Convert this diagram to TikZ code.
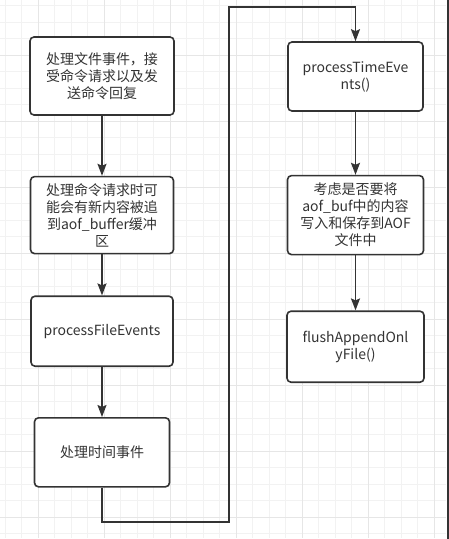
\documentclass[tikz,border=0pt]{standalone}
\usepackage{fontspec}
\setmainfont{Noto Sans CJK SC}
\usetikzlibrary{arrows.meta,positioning}
\definecolor{ink}{HTML}{333333}
\definecolor{gridminor}{HTML}{F2F2F2}
\definecolor{gridmajor}{HTML}{E6E6E6}

\begin{document}
\begin{tikzpicture}[x=1pt, y=-1pt,
  font=\fontsize{14}{17}\selectfont,
  stepbox/.style={draw=ink, line width=1.6pt, rounded corners=4pt, fill=white, text=ink, align=center, inner sep=0pt},
  arr/.style={-{Stealth[length=12pt, width=9pt, inset=2pt]}, draw=ink, line width=1.6pt}]
  \useasboundingbox (0,0) rectangle (449,539);
  \fill[white] (0,0) rectangle (449,539);
  % grid
  \foreach \i in {0,...,26} \draw[gridminor, line width=0.8pt] (5+16.5*\i,0) -- (5+16.5*\i,538);
  \foreach \j in {0,...,32} \draw[gridminor, line width=0.8pt] (0,5.5+16.5*\j) -- (446,5.5+16.5*\j);
  \foreach \x in {38,104,...,434} \draw[gridmajor, line width=0.8pt] (\x,0) -- (\x,538);
  \foreach \y in {55,121,...,517} \draw[gridmajor, line width=0.8pt] (0,\y) -- (446,\y);
  \fill[ink] (446.5,0) rectangle (448.5,539);

  % left column
  \node[stepbox, minimum width=144pt, minimum height=78pt] (fileev) at (102,76)
    {处理文件事件，接\\受命令请求以及发\\送命令回复};
  \node[stepbox, minimum width=143pt, minimum height=77pt, below=60pt of fileev] (cmdreq)
    {处理命令请求时可\\能会有新内容被追\\到aof\_buffer缓冲\\区};
  \node[stepbox, minimum width=142pt, minimum height=70pt, below=41pt of cmdreq] (pfe)
    {processFileEvents};
  \node[stepbox, minimum width=135pt, minimum height=69pt, below=50pt of pfe] (timeev)
    {处理时间事件};

  % right column
  \node[stepbox, minimum width=135pt, minimum height=69pt] (pte) at (355.5,76.5)
    {processTimeEve\\nts()};
  \node[stepbox, minimum width=136pt, minimum height=79pt, below=63pt of pte] (aofbuf)
    {考虑是否要将\\aof\_buf中的内容\\写入和保存到AOF\\文件中};
  \node[stepbox, minimum width=137pt, minimum height=71pt, below=55pt of aofbuf] (flush)
    {flushAppendOnl\\yFile()};

  \coordinate (loopA) at (102,522);
  \coordinate (loopB) at (229,522);
  \coordinate (loopC) at (229,7);
  \coordinate (loopD) at (355.5,7);

  \draw[arr] (fileev) -- (cmdreq);
  \draw[arr] (cmdreq) -- (pfe);
  \draw[arr] (pfe) -- (timeev);
  \draw[arr] (timeev.south) -- (loopA) -- (loopB) -- (loopC) -- (loopD) -- (pte.north);
  \draw[arr] (pte) -- (aofbuf);
  \draw[arr] (aofbuf) -- (flush);
\end{tikzpicture}
\end{document}
